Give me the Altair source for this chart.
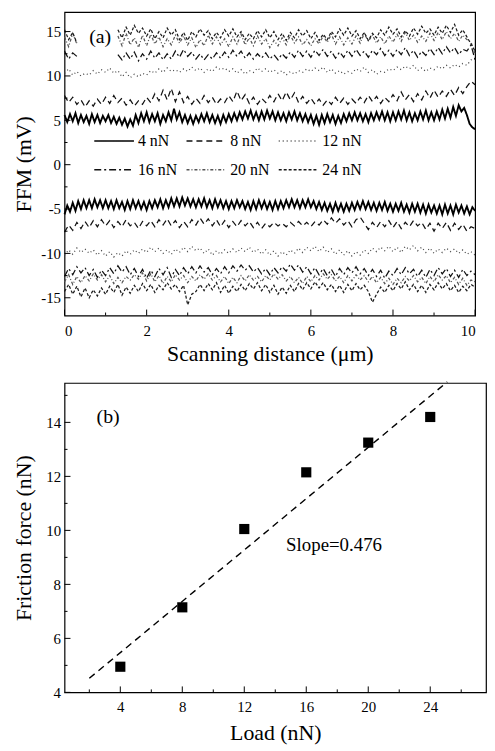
import altair as alt
import numpy as np
import pandas as pd

FONT = "Liberation Serif"

# ---------------- panel (a) data: FFM signal (mV) vs scanning distance (0-10 um)
loads = ["4 nN", "8 nN", "12 nN", "16 nN", "20 nN", "24 nN"]

trace_4 = [5.6,4.8,5.7,4.9,5.8,4.7,5.6,4.8,5.5,4.6,5.7,4.8,5.6,4.7,5.5,
           4.9,5.6,4.7,5.4,4.6,5.3,4.5,5.2,4.3,5.1,4.4,5.6,4.7,5.8,4.9,
           5.9,4.8,5.7,4.9,5.8,4.6,5.6,4.9,5.9,5.0,6.3,5.1,5.9,4.8,5.6,
           4.7,5.5,4.6,5.5,4.8,5.7,4.9,5.8,4.8,5.6,4.7,5.5,4.6,5.6,4.8,
           5.7,4.9,5.8,5.0,5.9,5.1,6.0,5.2,6.1,5.1,5.9,5.0,6.0,5.1,6.1,
           5.2,6.0,5.0,5.9,5.0,5.8,4.9,5.9,5.1,6.0,5.0,5.8,4.9,5.7,4.8,
           5.6,4.6,5.5,4.5,5.6,4.7,5.7,4.8,5.6,4.6,5.5,4.7,5.7,4.9,5.8,
           5.0,5.9,5.0,5.8,4.9,5.7,4.8,5.8,5.0,5.9,5.1,6.0,5.0,5.9,4.9,
           5.9,5.0,6.0,5.1,6.1,5.0,5.9,4.9,5.8,5.0,6.0,5.1,6.1,5.0,5.9,
           5.0,6.0,5.1,6.2,5.2,6.3,5.3,6.5,5.5,6.7,6.0,6.4,5.6,4.6,4.2,4.0]
retrace_4 = [-5.6,-4.6,-5.3,-4.3,-5.2,-4.1,-5.0,-4.0,-4.9,-4.0,-4.9,-3.9,-4.8,-4.0,-4.9,
             -4.0,-4.9,-4.1,-5.0,-4.0,-4.9,-4.2,-5.1,-4.1,-5.0,-4.0,-4.9,-4.1,-5.0,-4.2,
             -5.1,-4.1,-4.9,-4.0,-4.8,-3.9,-4.9,-4.0,-4.8,-3.8,-4.7,-3.8,-4.7,-3.7,-4.6,
             -3.8,-4.7,-3.9,-4.8,-3.9,-4.7,-3.8,-4.8,-4.0,-4.9,-3.9,-4.8,-4.0,-4.9,-4.1,
             -5.0,-4.1,-4.9,-4.0,-4.8,-4.1,-5.0,-4.2,-5.1,-4.1,-5.0,-4.0,-4.9,-4.1,-5.0,
             -4.2,-5.1,-4.1,-5.0,-4.1,-4.9,-4.0,-4.8,-3.9,-4.8,-4.0,-4.9,-4.0,-4.8,-3.9,
             -4.8,-4.1,-5.0,-4.2,-5.1,-4.3,-5.2,-4.4,-5.3,-4.3,-5.2,-4.4,-5.3,-4.4,-5.2,
             -4.3,-5.1,-4.2,-5.0,-4.1,-5.0,-4.2,-5.1,-4.3,-5.2,-4.3,-5.1,-4.2,-5.2,-4.4,
             -5.3,-4.4,-5.2,-4.3,-5.3,-4.5,-5.4,-4.4,-5.3,-4.4,-5.4,-4.5,-5.5,-4.5,-5.4,
             -4.6,-5.5,-4.6,-5.6,-4.5,-5.5,-4.6,-5.6,-4.5,-5.4,-4.6,-5.5,-4.7,-5.6,-4.8,-5.2]

trace_8 = [7.8,7.0,7.6,6.8,7.3,6.5,7.2,6.6,7.4,6.8,
           7.6,6.9,7.8,7.0,7.5,6.7,7.3,6.6,7.2,6.8,
           7.6,7.0,8.0,7.2,8.4,7.3,8.6,7.1,8.2,7.0,
           7.7,6.8,7.5,6.9,7.8,7.0,7.6,6.8,7.4,7.0,
           7.8,7.1,8.3,7.2,7.9,6.9,7.6,6.8,7.5,7.0,
           7.8,7.1,8.0,7.2,8.2,7.3,8.1,7.0,7.7,6.9,
           7.5,6.8,7.4,6.7,7.3,6.8,7.6,6.9,7.5,6.8,
           7.4,6.9,7.6,7.0,7.8,7.1,7.7,6.9,7.6,7.1,
           7.9,7.2,8.2,7.3,7.9,7.1,8.0,7.3,8.3,7.5,
           8.4,7.6,8.3,7.7,8.5,7.8,8.7,8.0,8.8,9.4,9.0]
retrace_8 = [-7.6,-6.8,-7.4,-6.5,-7.2,-6.4,-7.1,-6.3,-7.0,-6.2,
             -6.9,-6.3,-7.1,-6.4,-7.0,-6.2,-6.9,-6.5,-7.2,-6.4,
             -6.9,-6.3,-7.0,-6.2,-6.8,-6.1,-6.9,-6.3,-7.1,-6.4,
             -7.0,-6.2,-6.8,-6.0,-6.7,-6.1,-6.9,-6.2,-7.0,-6.3,
             -7.1,-6.4,-7.0,-6.3,-6.9,-6.4,-7.1,-6.5,-7.2,-6.6,
             -7.0,-6.5,-6.9,-6.6,-7.0,-6.5,-6.9,-6.4,-6.9,-6.5,
             -7.0,-6.4,-6.8,-6.2,-6.7,-6.0,-6.6,-6.1,-6.8,-6.3,
             -7.0,-6.2,-5.9,-6.6,-7.3,-6.5,-7.1,-6.4,-7.0,-6.3,
             -7.1,-6.4,-7.2,-6.5,-7.0,-6.3,-6.9,-6.5,-7.3,-6.6,
             -7.5,-6.6,-7.2,-6.5,-7.4,-6.6,-7.3,-6.7,-7.5,-7.0,-7.2]

trace_12 = [10.3,10.8,10.1,10.5,10.0,10.3,10.1,10.6,10.2,10.7,
            10.4,10.9,10.3,10.6,9.9,10.4,9.8,10.2,9.9,10.3,
            10.1,10.6,10.3,10.8,10.4,10.9,10.5,10.7,10.4,10.8,
            10.5,11.0,10.6,10.9,10.4,10.8,10.5,11.0,10.7,10.9,
            10.5,10.8,10.3,10.7,10.2,10.6,10.4,10.9,10.5,10.8,
            10.4,10.7,10.3,10.6,10.1,10.5,10.2,10.6,10.4,10.8,
            10.5,10.9,10.6,11.0,10.4,10.8,10.3,10.6,10.2,10.5,
            10.3,10.8,10.5,11.0,10.4,10.7,10.2,10.5,10.4,10.8,
            10.6,11.0,10.7,11.1,10.8,11.2,10.6,10.9,10.5,10.9,
            10.7,11.1,10.8,11.2,10.9,11.3,11.0,11.4,11.2,11.8,12.0]
retrace_12 = [-10.2,-9.6,-10.1,-9.4,-9.9,-9.5,-10.0,-9.6,-10.2,-9.7,
              -10.3,-9.8,-10.4,-9.9,-10.3,-9.7,-10.1,-9.6,-10.0,-9.5,
              -9.9,-9.3,-9.8,-9.4,-10.0,-9.6,-10.1,-9.5,-9.9,-9.3,
              -9.8,-9.2,-9.7,-9.4,-10.0,-9.5,-10.2,-9.7,-10.1,-9.6,
              -10.0,-9.5,-9.9,-9.4,-9.8,-9.3,-9.9,-9.5,-10.1,-9.6,
              -10.2,-9.7,-10.3,-9.8,-10.2,-9.6,-10.0,-9.4,-9.9,-9.3,
              -9.7,-9.2,-9.8,-9.3,-9.9,-9.5,-10.1,-9.6,-10.2,-9.7,
              -10.3,-9.8,-10.2,-9.6,-10.0,-9.4,-9.8,-9.3,-9.7,-9.2,
              -9.8,-9.3,-9.9,-9.2,-9.6,-9.1,-9.7,-9.3,-9.9,-9.4,
              -10.0,-9.5,-9.9,-9.4,-9.8,-9.5,-10.0,-9.6,-10.1,-9.8,-10.2]

trace_16 = [12.8,11.9,12.6,12.2,None,None,None,None,None,None,
            None,None,None,12.4,11.8,12.6,11.9,12.7,11.7,12.5,
            11.9,12.8,12.0,12.6,11.8,12.5,11.9,12.8,12.1,13.0,
            12.2,12.7,11.9,12.5,11.8,12.4,11.9,12.6,12.0,12.7,
            12.1,12.9,12.2,12.8,12.0,12.6,11.9,12.5,12.0,12.6,
            11.9,12.4,11.8,12.5,12.0,12.7,12.1,12.9,12.2,12.8,
            12.1,12.9,12.3,13.0,12.2,12.8,12.0,12.7,12.1,12.9,
            12.2,13.0,12.3,12.8,12.1,12.9,12.4,13.1,12.3,12.9,
            12.2,13.0,12.4,13.2,12.3,12.9,12.1,12.8,12.3,13.1,
            12.4,13.2,12.5,13.3,12.6,13.2,12.4,13.0,12.8,13.5,11.8]
retrace_16 = [-12.6,-11.7,-12.4,-11.5,-12.2,-11.6,-12.5,-11.8,-12.7,-11.9,
              -12.5,-11.6,-12.3,-11.4,-12.1,-11.5,-12.4,-11.7,-12.6,-11.8,
              -12.8,-11.9,-12.6,-11.7,-12.4,-11.6,-12.7,-11.8,-12.5,-11.6,
              -12.3,-11.5,-12.2,-11.4,-12.1,-11.6,-12.4,-11.7,-12.3,-11.5,
              -12.2,-11.4,-12.0,-11.3,-11.9,-11.4,-12.1,-11.6,-12.3,-11.7,
              -12.4,-11.6,-12.2,-11.5,-12.0,-11.2,-11.9,-11.3,-12.1,-11.5,
              -12.3,-11.6,-12.4,-11.7,-12.5,-11.8,-12.6,-11.7,-12.4,-11.6,
              -12.2,-11.5,-12.3,-11.7,-12.5,-11.8,-12.6,-11.9,-12.8,-12.0,
              -12.5,-11.7,-12.4,-11.6,-12.3,-11.8,-12.6,-11.9,-12.7,-11.8,
              -12.5,-11.6,-12.3,-11.7,-12.6,-11.9,-12.7,-11.8,-12.5,-12.0,-12.4]

trace_20 = [14.4,13.3,14.8,13.6,None,None,None,None,None,None,
            None,None,None,14.5,13.4,14.8,13.5,14.3,13.2,14.6,
            13.4,14.7,13.6,14.4,13.3,14.2,13.5,14.6,13.7,14.5,
            13.5,14.3,13.2,14.1,13.4,14.6,13.6,14.4,13.5,14.2,
            13.3,14.4,13.6,14.7,13.5,14.3,13.4,14.5,13.6,14.2,
            13.2,14.0,13.4,14.3,13.5,14.6,13.7,14.4,13.5,14.1,
            13.4,14.2,13.6,14.5,13.8,14.7,13.6,14.4,13.5,14.3,
            13.6,14.5,13.7,14.8,13.9,14.6,13.7,14.4,13.6,14.5,
            13.8,14.7,13.9,14.9,14.0,14.6,13.8,14.5,13.9,14.8,
            14.0,14.9,14.1,15.0,14.2,14.8,13.9,14.6,14.1,13.8,12.5]
retrace_20 = [-13.2,-12.4,-13.5,-12.6,-13.3,-12.5,-13.1,-12.3,-13.0,-12.4,
              -13.2,-12.5,-13.4,-12.7,-13.3,-12.6,-13.0,-12.4,-12.9,-12.2,
              -13.1,-12.3,-13.2,-12.5,-13.4,-12.6,-13.2,-12.4,-13.0,-12.5,
              -13.3,-12.6,-13.1,-12.4,-12.9,-12.3,-13.0,-12.5,-13.2,-12.6,
              -13.4,-12.7,-13.3,-12.5,-13.1,-12.4,-13.0,-12.6,-13.2,-12.5,
              -13.0,-12.3,-12.9,-12.4,-13.1,-12.6,-13.3,-12.7,-13.4,-12.6,
              -13.2,-12.5,-13.0,-12.3,-12.9,-12.4,-13.1,-12.6,-13.3,-12.5,
              -13.1,-12.4,-13.0,-12.5,-13.2,-12.6,-13.3,-12.7,-13.4,-12.8,
              -13.5,-12.8,-13.3,-12.6,-13.1,-12.5,-13.2,-12.7,-13.4,-12.6,
              -13.2,-12.4,-13.0,-12.5,-13.3,-12.7,-13.5,-12.8,-13.6,-13.0,-13.2]

trace_24 = [15.2,14.1,14.9,13.7,None,None,None,None,None,None,
            None,None,None,15.2,14.3,15.5,14.6,15.7,14.8,15.4,
            14.5,15.3,14.2,15.0,14.3,15.4,14.6,15.2,14.1,14.9,
            14.0,15.0,14.4,15.3,14.6,15.1,14.2,14.9,14.3,15.2,
            14.5,15.3,14.4,15.0,14.1,14.8,14.2,15.1,14.4,15.2,
            14.3,15.0,14.1,14.8,14.0,14.9,14.3,15.2,14.5,15.1,
            14.2,14.9,14.0,14.7,14.1,15.0,14.4,15.3,14.6,15.4,
            14.5,15.1,14.2,14.9,14.0,14.8,14.3,15.2,14.6,15.5,
            14.7,15.3,14.4,15.1,14.5,15.4,14.7,15.6,14.8,15.3,
            14.6,15.5,14.8,15.7,14.9,15.8,14.6,15.2,14.4,13.6,12.8]
retrace_24 = [-14.3,-13.5,-14.6,-13.7,-14.9,-13.9,-15.0,-14.1,-14.8,-13.9,
              -14.6,-13.7,-14.4,-13.5,-14.7,-13.8,-14.5,-13.6,-14.3,-13.4,
              -14.2,-13.5,-14.4,-13.6,-14.1,-13.3,-14.0,-13.5,-14.3,-13.6,
              -15.8,-14.6,-14.3,-13.5,-14.2,-13.4,-14.1,-13.3,-14.4,-13.6,
              -14.5,-13.7,-14.3,-13.5,-14.2,-13.4,-14.0,-13.3,-14.2,-13.5,
              -14.4,-13.6,-14.6,-13.8,-14.5,-13.6,-14.3,-13.4,-14.1,-13.3,
              -14.0,-13.2,-13.9,-13.3,-14.1,-13.5,-14.3,-13.6,-14.4,-13.5,
              -14.2,-13.4,-14.1,-13.6,-14.3,-15.5,-14.6,-13.8,-14.4,-13.6,
              -14.2,-13.4,-14.0,-13.2,-14.1,-13.5,-14.3,-13.6,-14.4,-13.5,
              -14.1,-13.3,-14.0,-13.4,-14.2,-13.6,-14.4,-13.7,-14.2,-13.5,-13.8]

signals = {
    "4 nN": (trace_4, retrace_4),
    "8 nN": (trace_8, retrace_8),
    "12 nN": (trace_12, retrace_12),
    "16 nN": (trace_16, retrace_16),
    "20 nN": (trace_20, retrace_20),
    "24 nN": (trace_24, retrace_24),
}

# ticks for panel (a)
a_x_major = [0, 2, 4, 6, 8, 10]
a_x_minor = [1, 3, 5, 7, 9]
a_y_major = [-15, -10, -5, 0, 5, 10, 15]
a_y_minor = [-12.5, -7.5, -2.5, 2.5, 7.5, 12.5]

# ---------------- panel (b) data
load_nN = [4, 8, 12, 16, 20, 24]
friction_nN = [4.95, 7.15, 10.05, 12.15, 13.25, 14.2]
fit_load = [2.0, 25.1]
fit_friction = [4.52, 15.5]
b_x_major = [4, 8, 12, 16, 20, 24]
b_x_minor = [2, 6, 10, 14, 18, 22, 26]
b_y_major = [4, 6, 8, 10, 12, 14]
b_y_minor = [5, 7, 9, 11, 13, 15]

# ---------------- build tables
rows = []
for load, pair in signals.items():
    for direction, arr in zip(("trace", "retrace"), pair):
        xs = np.linspace(0, 10, len(arr))
        seg, gap = 0, True
        for i, (xv, yv) in enumerate(zip(xs, arr)):
            if yv is None:
                gap = True
                continue
            if gap:
                seg += 1
                gap = False
            rows.append({"load": load, "dist": float(xv), "ffm": yv,
                         "key": f"{load}-{direction}-{seg}", "i": i})
df_a = pd.DataFrame(rows)

dash_range = [[1, 0], [6, 4], [1, 3], [7, 3, 2, 3], [3, 2, 1, 2], [3, 2]]
color_range = ["#000000", "#111111", "#444444", "#111111", "#555555", "#1a1a1a"]

WA, HA = 414, 306
WB, HB = 425, 312
TICK_MAJ, TICK_MIN = 6, 3

TA_X, TA_Y = "Scanning distance (μm)", "FFM (mV)"
TB_X, TB_Y = "Load (nN)", "Friction force (nN)"

legend = alt.Legend(orient="none", legendX=29, legendY=109, columns=3, direction="horizontal",
                    title=None, symbolType="stroke", symbolSize=1600, symbolStrokeWidth=1.4,
                    labelFont=FONT, labelFontSize=16, labelColor="black",
                    labelOffset=3, columnPadding=6, rowPadding=0, labelLimit=200)

xa = alt.X("dist:Q", title=TA_X,
           scale=alt.Scale(domain=[0, 10], nice=False, zero=False),
           axis=alt.Axis(values=a_x_major, labelPadding=8, titlePadding=5))
ya = alt.Y("ffm:Q", title=TA_Y,
           scale=alt.Scale(domain=[-17, 17.2], nice=False, zero=False),
           axis=alt.Axis(values=a_y_major, labelPadding=4, titlePadding=5,
                         labelExpr="datum.value < 0 ? '-' + abs(datum.value) : '' + datum.value"))
enc_common = dict(
    x=xa, y=ya, detail="key:N", order="i:Q",
    strokeDash=alt.StrokeDash("load:N", scale=alt.Scale(domain=loads, range=dash_range), legend=legend),
    color=alt.Color("load:N", scale=alt.Scale(domain=loads, range=color_range), legend=legend),
)
base_a = alt.Chart(df_a)
lines_thin = base_a.transform_filter(alt.datum.load != "4 nN").mark_line(strokeWidth=1.25).encode(**enc_common)
lines_thick = base_a.transform_filter(alt.datum.load == "4 nN").mark_line(strokeWidth=1.9).encode(**enc_common)


def xticks_bottom(vals, fld, length, h, title):
    return alt.Chart(pd.DataFrame({fld: vals})).mark_rule(color="black", strokeWidth=1).encode(
        x=alt.X(f"{fld}:Q", title=title), y=alt.value(h), y2=alt.value(h - length)
    )


def yticks_left(vals, fld, length, title):
    return alt.Chart(pd.DataFrame({fld: vals})).mark_rule(color="black", strokeWidth=1).encode(
        y=alt.Y(f"{fld}:Q", title=title), x=alt.value(0), x2=alt.value(length)
    )


label_a = alt.Chart(pd.DataFrame({"dist": [0.6], "ffm": [14.4], "t": ["(a)"]})).mark_text(
    font=FONT, fontSize=20, align="left", baseline="middle", color="black"
).encode(x=alt.X("dist:Q", title=TA_X), y=alt.Y("ffm:Q", title=TA_Y), text="t:N")

panel_a = alt.layer(
    lines_thin, lines_thick,
    xticks_bottom(a_x_major, "dist", TICK_MAJ, HA, TA_X), xticks_bottom(a_x_minor, "dist", TICK_MIN, HA, TA_X),
    yticks_left(a_y_major, "ffm", TICK_MAJ, TA_Y), yticks_left(a_y_minor, "ffm", TICK_MIN, TA_Y),
    label_a,
).properties(width=WA, height=HA)

# ---------------- panel (b)
df_pts = pd.DataFrame({"load": load_nN, "fric": friction_nN})
df_fit = pd.DataFrame({"load": fit_load, "fric": fit_friction})
xb = alt.X("load:Q", title=TB_X, scale=alt.Scale(domain=[0.4, 27.6], nice=False, zero=False),
           axis=alt.Axis(values=b_x_major, labelPadding=7, titlePadding=9))
yb = alt.Y("fric:Q", title=TB_Y, scale=alt.Scale(domain=[4, 15.46], nice=False, zero=False),
           axis=alt.Axis(values=b_y_major, labelPadding=4, titlePadding=10))

fit_line = alt.Chart(df_fit).mark_line(color="black", strokeDash=[7, 5], strokeWidth=1.4).encode(x=xb, y=yb)
pts = alt.Chart(df_pts).mark_square(size=105, color="black", opacity=1, filled=True).encode(x=xb, y=yb)
ann_b = alt.Chart(pd.DataFrame({"load": [14.7, 2.47], "fric": [9.44, 14.2], "t": ["Slope=0.476", "(b)"],
                                "fs": [19, 20]})).mark_text(
    font=FONT, align="left", baseline="middle", color="black"
).encode(x=alt.X("load:Q", title=TB_X), y=alt.Y("fric:Q", title=TB_Y), text="t:N",
         size=alt.Size("fs:Q", scale=None, legend=None))

panel_b = alt.layer(
    fit_line, pts,
    xticks_bottom(b_x_major, "load", TICK_MAJ, HB, TB_X), xticks_bottom(b_x_minor, "load", TICK_MIN, HB, TB_X),
    yticks_left(b_y_major, "fric", TICK_MAJ, TB_Y), yticks_left(b_y_minor, "fric", TICK_MIN, TB_Y),
    ann_b,
).properties(width=WB, height=HB)

chart = alt.vconcat(panel_a, panel_b, spacing=13).properties(
    padding={"left": 4, "top": 0, "right": 0, "bottom": 0}
).configure_view(stroke="black", strokeWidth=1.2).configure_axis(
    grid=False, domain=False, ticks=False,
    labelFont=FONT, labelFontSize=15, labelColor="black",
    titleFont=FONT, titleFontSize=22, titleFontWeight="normal", titleColor="black",
)

chart.save("out.html", embed_options={"renderer": "svg", "actions": False})
